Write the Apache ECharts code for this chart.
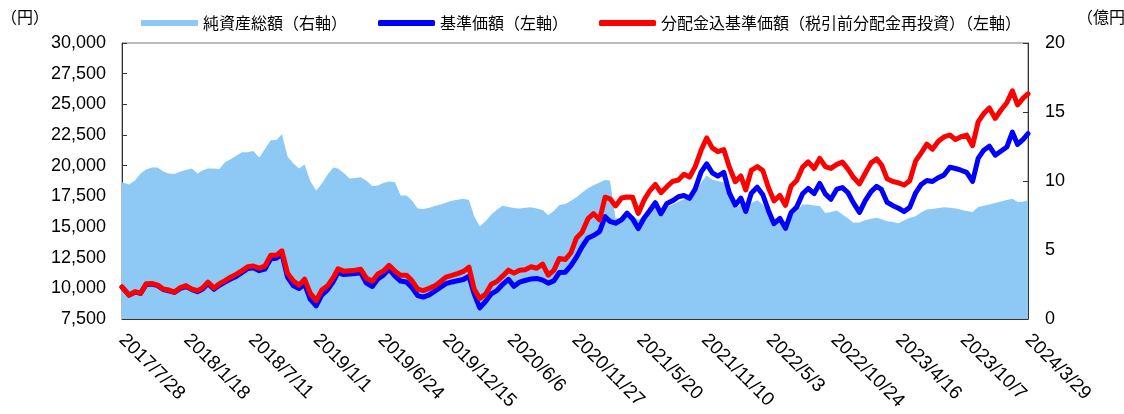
<!DOCTYPE html>
<html><head><meta charset="utf-8">
<script src="https://cdn.jsdelivr.net/npm/echarts@6/dist/echarts.min.js"></script>
<style>html,body{margin:0;padding:0;background:#fff}#c{width:1124px;height:414px}</style>
</head><body><div id="c"></div>
<script>
// ---- data ----
const dates = [
'2017-07-28','2017-08-16','2017-09-01','2017-09-16','2017-10-01','2017-10-16','2017-11-01','2017-11-16','2017-12-01','2017-12-16',
'2018-01-01','2018-01-16','2018-02-01','2018-02-16','2018-03-01','2018-03-16','2018-04-01','2018-04-16','2018-05-01','2018-05-16','2018-06-01','2018-06-16','2018-07-01','2018-07-16','2018-08-01','2018-08-16','2018-09-01','2018-09-16','2018-10-01','2018-10-16','2018-11-01','2018-11-16','2018-12-01','2018-12-16',
'2019-01-01','2019-01-16','2019-02-01','2019-02-16','2019-03-01','2019-03-16','2019-04-01','2019-04-16','2019-05-01','2019-05-16','2019-06-01','2019-06-16','2019-07-01','2019-07-16','2019-08-01','2019-08-16','2019-09-01','2019-09-16','2019-10-01','2019-10-16','2019-11-01','2019-11-16','2019-12-01','2019-12-16',
'2020-01-01','2020-01-16','2020-02-01','2020-02-16','2020-03-01','2020-03-16','2020-04-01','2020-04-16','2020-05-01','2020-05-16','2020-06-01','2020-06-16','2020-07-01','2020-07-16','2020-08-01','2020-08-16','2020-09-01','2020-09-16','2020-10-01','2020-10-16','2020-11-01','2020-11-16','2020-12-01','2020-12-16',
'2021-01-01','2021-01-16','2021-02-01','2021-02-16','2021-03-01','2021-03-16','2021-04-01','2021-04-16','2021-05-01','2021-05-16','2021-06-01','2021-06-16','2021-07-01','2021-07-16','2021-08-01','2021-08-16','2021-09-01','2021-09-16','2021-10-01','2021-10-16','2021-11-01','2021-11-16','2021-12-01','2021-12-16',
'2022-01-01','2022-01-16','2022-02-01','2022-02-16','2022-03-01','2022-03-16','2022-04-01','2022-04-16','2022-05-01','2022-05-16','2022-06-01','2022-06-16','2022-07-01','2022-07-16','2022-08-01','2022-08-16','2022-09-01','2022-09-16','2022-10-01','2022-10-16','2022-11-01','2022-11-16','2022-12-01','2022-12-16',
'2023-01-01','2023-01-16','2023-02-01','2023-02-16','2023-03-01','2023-03-16','2023-04-01','2023-04-16','2023-05-01','2023-05-16','2023-06-01','2023-06-16','2023-07-01','2023-07-16','2023-08-01','2023-08-16','2023-09-01','2023-09-16','2023-10-01','2023-10-16','2023-11-01','2023-11-16','2023-12-01','2023-12-16',
'2024-01-01','2024-01-16','2024-02-01','2024-02-16','2024-03-01','2024-03-16','2024-03-29'
];
// 純資産総額 (億円, right axis)
const netAssets = [
9.91,9.75,10.04,10.54,10.83,10.97,10.97,10.69,10.54,10.51,
10.69,10.79,10.90,10.54,10.76,10.90,10.90,10.87,11.36,11.57,11.84,12.08,12.08,12.17,11.70,12.30,12.96,12.97,13.39,11.77,11.26,10.90,11.19,10.00,
9.31,9.80,10.47,10.97,10.90,10.58,10.18,10.22,10.27,10.01,9.64,9.68,9.86,9.96,9.91,8.95,8.95,8.56,8.01,7.98,8.07,8.19,8.30,8.43,
8.56,8.64,8.71,8.63,7.44,6.71,7.11,7.58,7.91,8.21,8.12,8.04,8.01,8.06,8.10,8.01,7.90,7.51,7.83,8.26,8.34,8.56,8.82,9.17,
9.47,9.69,9.89,10.08,10.04,7.30,7.35,7.60,7.50,7.20,7.55,7.80,8.10,7.70,8.10,8.30,8.50,8.70,8.70,9.10,9.90,10.40,10.10,10.00,
9.90,8.90,8.00,8.30,7.70,8.40,8.60,8.30,7.60,7.00,7.20,6.90,7.50,7.80,8.30,8.30,8.23,8.19,7.69,7.76,7.86,7.58,7.29,6.97,
7.00,7.15,7.26,7.33,7.22,7.08,7.02,6.93,7.15,7.33,7.44,7.73,7.94,7.98,8.05,8.10,8.06,8.01,7.91,7.83,7.76,8.11,8.21,8.30,
8.41,8.52,8.63,8.71,8.48,8.52,8.59
];
// 基準価額 (円, left axis)
const nav = [
10100,9450,9690,9590,10320,10340,10220,9900,9800,9670,
9990,10140,9900,9730,9920,10390,9920,10250,10510,10750,10990,11290,11620,11670,11440,11560,12410,12450,12810,10910,10210,9980,10340,9120,
8570,9450,9900,10550,11300,11120,11160,11200,11260,10420,10150,10770,11080,11580,10990,10590,10520,10050,9410,9290,9470,9770,10070,10380,
10520,10620,10720,10990,9530,8410,8950,9550,9810,10310,10730,10160,10510,10640,10770,10810,10670,10420,10610,11290,11320,11860,12540,13390,
14110,14310,14630,15840,15460,15310,15580,16130,15660,14870,15740,16340,16980,16080,16910,17130,17470,17570,17340,18090,19470,20150,19420,19150,
19460,17780,16790,17350,16270,17750,18240,17630,16350,15270,15700,14890,16180,16620,17710,18140,17730,18560,17700,17260,18090,18210,17790,16950,
16190,17130,17880,18310,18060,17020,16740,16530,16260,16600,17790,18470,18790,18710,19020,19230,19870,19770,19630,19450,18710,20590,21260,21590,
20860,21180,21520,22730,21730,22150,22610
];
// 分配金込基準価額 (円, left axis)
const navReinvested = [
10120,9450,9720,9610,10380,10400,10260,9940,9860,9690,
10060,10220,9940,9810,10020,10510,10020,10380,10630,10910,11160,11440,11760,11820,11640,11810,12700,12700,13060,11240,10590,10260,10750,9610,
9000,9860,10220,10870,11600,11400,11440,11480,11560,10830,10590,11170,11420,11870,11400,11070,11070,10610,9940,9810,10000,10200,10540,10910,
11050,11200,11380,11720,9940,9170,9530,10340,10560,10990,11480,11240,11480,11520,11760,11640,11970,11070,11460,12440,12350,12900,14110,14570,
15680,16090,15590,17430,17300,16720,17360,17450,17420,16110,17210,17950,18470,17800,18290,18710,18830,19300,19070,19900,21250,22260,21450,21150,
21310,19880,18690,19160,18020,19620,19930,19600,18220,17130,17570,16760,18340,18790,19880,20310,19770,20590,19930,19780,20110,20290,19720,19030,
18510,19360,20230,20550,20070,18940,18710,18600,18420,18770,20390,21040,21760,21340,21990,22340,22500,22140,22360,22490,21630,23570,24250,24700,
23850,24520,25130,26100,24950,25500,25860
];
const seriesNames = ['純資産総額（右軸）','基準価額（左軸）','分配金込基準価額（税引前分配金再投資）（左軸）'];
const startDate = '2017-07-28';
const endDate = '2024-03-29';
const xLabelStepDays = 174;
const leftMin = 7500, leftMax = 30000, leftStep = 2500;
const rightMin = 0, rightMax = 20, rightStep = 5;

// ---- build ----
const DAY = 86400000;
const t0 = Date.parse(startDate + 'T00:00:00Z');
const dayIdx = d => Math.round((Date.parse(d + 'T00:00:00Z') - t0) / DAY);
const xMax = dayIdx(endDate);
const pairs = arr => dates.map((d, i) => [dayIdx(d), arr[i]]);
const fmtDay = v => { const dt = new Date(t0 + v * DAY); return dt.getUTCFullYear() + '/' + (dt.getUTCMonth() + 1) + '/' + dt.getUTCDate(); };

const numFont = 'Liberation Sans';
const cjkFont = 'Noto Sans CJK JP';
const axisCol = '#333';

const chart = echarts.init(document.getElementById('c'), null, {renderer: 'canvas'});
chart.setOption({
  animation: false,
  backgroundColor: '#fff',
  grid: {left: 122, right: 96, top: 43, bottom: 95, show: true, borderColor: '#777', borderWidth: 1, backgroundColor: 'transparent'},
  legend: {
    left: 136, top: 10, itemWidth: 57, itemHeight: 6, itemGap: 31,
    textStyle: {fontFamily: cjkFont, fontSize: 16, color: '#000'},
    data: [
      {name: seriesNames[0], icon: 'rect'},
      {name: seriesNames[1], icon: 'roundRect'},
      {name: seriesNames[2], icon: 'roundRect'}
    ]
  },
  graphic: [
    {type: 'text', left: 1, top: 9, style: {text: '（円）', font: '16px "Noto Sans CJK JP"', fill: '#000'}},
    {type: 'text', left: 1077, top: 9, style: {text: '（億円）', font: '16px "Noto Sans CJK JP"', fill: '#000'}}
  ],
  xAxis: {
    type: 'value', min: 0, max: xMax, interval: xLabelStepDays,
    axisLine: {show: true, lineStyle: {color: axisCol, width: 1}},
    axisTick: {show: true, inside: true, length: 6, lineStyle: {color: axisCol}},
    splitLine: {show: false},
    axisLabel: {rotate: -45, margin: 18, fontFamily: numFont, fontSize: 19, color: '#000', formatter: fmtDay, showMinLabel: true, showMaxLabel: true}
  },
  yAxis: [
    {
      type: 'value', min: leftMin, max: leftMax, interval: leftStep, position: 'left',
      axisLine: {show: true, lineStyle: {color: axisCol, width: 1}},
      axisTick: {show: true, inside: true, length: 5, lineStyle: {color: axisCol}},
      splitLine: {show: false},
      axisLabel: {margin: 16, fontFamily: numFont, fontSize: 18, color: '#000', formatter: v => v.toLocaleString('en-US')}
    },
    {
      type: 'value', min: rightMin, max: rightMax, interval: rightStep, position: 'right',
      axisLine: {show: true, lineStyle: {color: axisCol, width: 1}},
      axisTick: {show: true, inside: true, length: 5, lineStyle: {color: axisCol}},
      splitLine: {show: false},
      axisLabel: {margin: 17, fontFamily: numFont, fontSize: 18, color: '#000'}
    }
  ],
  series: [
    {
      name: seriesNames[0], type: 'line', yAxisIndex: 1, data: pairs(netAssets),
      symbol: 'none', lineStyle: {width: 0, color: '#8EC8F4'}, itemStyle: {color: '#8EC8F4'},
      areaStyle: {color: '#8EC8F4', opacity: 1}
    },
    {
      name: seriesNames[1], type: 'line', yAxisIndex: 0, data: pairs(nav),
      symbol: 'none', lineStyle: {width: 5, color: '#0000FF', join: 'round', cap: 'round'}, itemStyle: {color: '#0000FF'}
    },
    {
      name: seriesNames[2], type: 'line', yAxisIndex: 0, data: pairs(navReinvested),
      symbol: 'none', lineStyle: {width: 5, color: '#FF0000', join: 'round', cap: 'round'}, itemStyle: {color: '#FF0000'}
    }
  ]
});
</script>
</body></html>
